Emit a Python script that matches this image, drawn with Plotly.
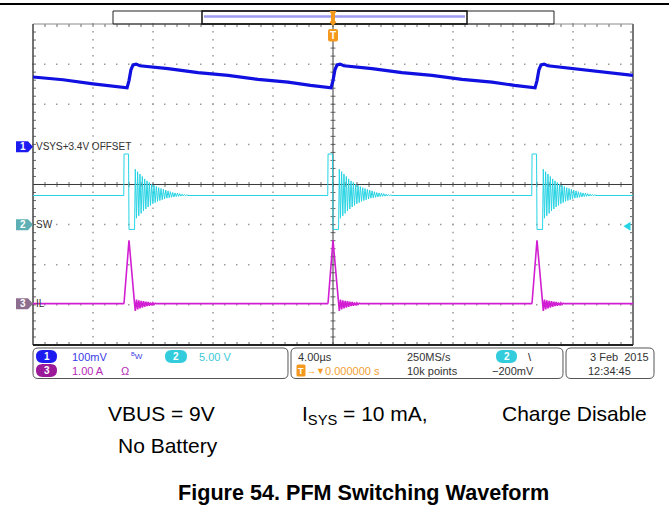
import plotly.graph_objects as go

W, H = 669, 510
FONT = "Liberation Sans, Arial"

# graticule position on the screenshot (px)
GL, GR, GT, GB = 33, 633, 24, 345
DIVX = (GR - GL) / 10
DIVY = (GB - GT) / 8
CX = (GL + GR) / 2
CY = (GT + GB) / 2

# scope settings
TIME_DIV_US = 4.0
CH1_SCALE_MV, CH1_POS = 100.0, 0.94    # VSYS, 3.4 V offset
CH2_SCALE_V, CH2_POS = 5.0, -1.0       # SW
CH3_SCALE_A, CH3_POS = 1.0, -2.97      # IL
TRIG_LEVEL_V = -0.2

# SW rising edges (us)
EVENT_T = [-13.93, -0.33, 13.27]

# VSYS ripple (mV above 3.4 V offset)
VSYS_T = [-20.0, -18.0, -16.0,
          -13.93, -13.73, -13.6, -13.47, -13.33, -13.13, -12.87,
          -11.0, -9.0, -7.0, -5.0, -3.0, -1.5,
          -0.33, -0.13, 0.0, 0.13, 0.27, 0.47, 0.73,
          2.6, 4.6, 6.6, 8.6, 10.6, 12.1,
          13.27, 13.47, 13.6, 13.73, 13.87, 14.07, 14.33,
          16.0, 18.0, 20.0]
VSYS_MV = [174, 167, 157,
           149, 147, 165, 192, 204, 206, 202,
           195, 185, 178, 168, 161, 153,
           149, 147, 165, 192, 204, 206, 202,
           195, 185, 178, 168, 161, 153,
           149, 147, 165, 192, 204, 206, 202,
           195, 186, 178]

# SW node (V), per switching event
SW_IDLE_V = 3.63
SW_EDGE_T = [-0.02, 0.0, 0.30, 0.33, 0.70]
SW_EDGE_V = [3.63, 8.8, 8.8, -0.6, -0.6]
SW_RING_START = 0.75
SW_RING_DT = 0.078
SW_RING_V = [6.9, 0.8, 6.6, 1.1, 6.3, 1.4, 6.0, 1.7, 5.7, 1.95, 5.45, 2.2,
             5.25, 2.4, 5.05, 2.6, 4.9, 2.75, 4.75, 2.9, 4.6, 3.0, 4.5, 3.1,
             4.4, 3.2, 4.3, 3.3, 4.2, 3.35, 4.1, 3.4, 4.0, 3.45, 3.95, 3.5,
             3.9, 3.52, 3.85, 3.55, 3.8, 3.57, 3.75, 3.6, 3.7, 3.63]

# inductor current (A), per switching event
IL_EDGE_T = [-0.03, 0.0, 0.33, 0.70, 0.75]
IL_EDGE_A = [0.0, 0.02, 1.58, 0.0, -0.18]
IL_RING_START = 0.83
IL_RING_A = [0.1, -0.14, 0.08, -0.12, 0.07, -0.1, 0.06, -0.08, 0.05, -0.06,
             0.04, -0.05, 0.03, -0.04, 0.02, -0.02, 0.01, 0.0]


def fx(px):
    return px / W


def fy(py):
    return 1 - py / H


def seg(x0, y0, x1, y1):
    return f"M{fx(x0):.5f},{fy(y0):.5f}L{fx(x1):.5f},{fy(y1):.5f}"


def poly(pts):
    s = "M" + "L".join(f"{fx(x):.5f},{fy(y):.5f}" for x, y in pts)
    return s + "Z"


def rrect(x0, y0, x1, y1, r):
    p = [("M", x0 + r, y0), ("L", x1 - r, y0), ("Q", x1, y0, x1, y0 + r),
         ("L", x1, y1 - r), ("Q", x1, y1, x1 - r, y1), ("L", x0 + r, y1),
         ("Q", x0, y1, x0, y1 - r), ("L", x0, y0 + r), ("Q", x0, y0, x0 + r, y0)]
    out = ""
    for item in p:
        if item[0] == "Q":
            out += f"Q{fx(item[1]):.5f},{fy(item[2]):.5f} {fx(item[3]):.5f},{fy(item[4]):.5f}"
        else:
            out += f"{item[0]}{fx(item[1]):.5f},{fy(item[2]):.5f}"
    return out + "Z"


def event_series(idle, edge_t, edge_v, ring_start, ring_v):
    t, v = [-5 * TIME_DIV_US], [idle]
    for t0 in EVENT_T:
        for dt, val in zip(edge_t, edge_v):
            t.append(t0 + dt)
            v.append(val)
        for i, val in enumerate(ring_v):
            t.append(t0 + ring_start + i * SW_RING_DT)
            v.append(val)
    t.append(5 * TIME_DIV_US)
    v.append(idle)
    return t, v


shapes = []
annotations = []


def line_shape(path, color, width=1, layer="below", dash=None):
    ln = dict(color=color, width=width)
    if dash:
        ln["dash"] = dash
    shapes.append(dict(type="path", xref="paper", yref="paper", path=path,
                       line=ln, layer=layer))


def fill_shape(path, fill, line_color=None, width=0, layer="above"):
    shapes.append(dict(type="path", xref="paper", yref="paper", path=path,
                       fillcolor=fill, line=dict(color=line_color or fill, width=width),
                       layer=layer))


def text(x, y, s, color="#333333", size=11, anchor="left", bold=False, family=FONT):
    if bold:
        s = f"<b>{s}</b>"
    annotations.append(dict(x=fx(x), y=fy(y), xref="paper", yref="paper", text=s,
                            showarrow=False, xanchor=anchor, yanchor="middle",
                            font=dict(family=family, size=size, color=color)))


# ---- page header line ----
line_shape(seg(0, 4, W, 4), "#000000", 2, layer="above")

# ---- graticule ----
for k in range(1, 10):
    if k == 5:
        continue
    x = GL + k * DIVX
    line_shape(seg(x, GT - 1, x, GB), "#9a9a9a", 1.5, dash="1.5px,6.525px")
for k in range(1, 8):
    if k == 4:
        continue
    y = GT + k * DIVY
    line_shape(seg(GL - 1, y, GR, y), "#9a9a9a", 1.5, dash="1.5px,10.5px")

ticks = []
for i in range(1, 50):
    x = GL + i * DIVX / 5
    ticks.append(seg(x, GT, x, GT + 3))
    ticks.append(seg(x, GB, x, GB - 3))
    ticks.append(seg(x, CY - 2.5, x, CY + 2.5))
for j in range(1, 40):
    y = GT + j * DIVY / 5
    ticks.append(seg(GL, y, GL + 3, y))
    ticks.append(seg(GR, y, GR - 3, y))
    ticks.append(seg(CX - 2.5, y, CX + 2.5, y))
line_shape("".join(ticks), "#6a6a6a", 1)

line_shape(seg(GL, CY, GR, CY), "#3a3a3a", 1)
line_shape(seg(CX, GT, CX, GB), "#3a3a3a", 1)
line_shape(seg(GL, GT, GR, GT), "#8a8a8a", 1)
line_shape(seg(GL, GT, GL, GB), "#444444", 1.5)
line_shape(seg(GR, GT, GR, GB), "#777777", 2)
line_shape(seg(GL, GB, GR, GB), "#222222", 2)

# ---- record bar and trigger position ----
line_shape(poly([(113, 11), (554, 11), (554, 24), (113, 24)]), "#222222", 1, layer="above")
line_shape(poly([(202, 11), (467, 11), (467, 24), (202, 24)]), "#111111", 1.5, layer="above")
line_shape(seg(204, 16.5, 465, 16.5), "#9c9cf0", 2.5, layer="above")
fill_shape(poly([(329.5, 11), (336.5, 11), (335, 14), (335, 21), (336.5, 22),
                 (333, 26), (329.5, 22), (331, 21), (331, 14)]), "#f39a1e")
fill_shape(rrect(328, 29, 338, 41.5, 2), "#f39a1e")
text(CX, 35.5, "T", "#ffffff", 10, "center", bold=True)

# ---- channel markers ----
CH_MARK = [(CH1_POS, "1", "#1c1cf0", "VSYS+3.4V OFFSET"),
           (CH2_POS, "2", "#5fb0b4", "SW"),
           (CH3_POS, "3", "#8e6e8e", "IL")]
for pos, num, col, lab in CH_MARK:
    yc = CY - pos * DIVY
    fill_shape(poly([(16, yc - 5.5), (28, yc - 5.5), (33, yc), (28, yc + 5.5), (16, yc + 5.5)]), col)
    text(22.5, yc, num, "#ffffff", 10, "center", bold=True)
    text(34, yc, lab, "#333333", 10)

# trigger level arrow (ch2)
ty = CY - (CH2_POS + TRIG_LEVEL_V / CH2_SCALE_V) * DIVY
fill_shape(poly([(630.5, ty - 4.5), (623.5, ty), (630.5, ty + 4.5)]), "#26d4e4")

# ---- info panel ----
R1, R2 = 356.5, 370.5
for x0, x1 in [(33, 288), (291, 563), (566, 654)]:
    line_shape(rrect(x0, 348, x1, 378.5, 5), "#555555", 1, layer="above")


def badge(x0, x1, yc, num, col):
    fill_shape(rrect(x0, yc - 6.5, x1, yc + 6.5, 6.5), col)
    text((x0 + x1) / 2, yc, num, "#ffffff", 10, "center", bold=True)


badge(36, 57, R1, "1", "#1c1cf0")
badge(36, 57, R2, "3", "#9a1a9a")
badge(165, 187, R1, "2", "#33ccdd")
badge(496, 517, R1, "2", "#33ccdd")
text(70, R1, "100mV", "#3a3ae8")
text(129, R1 - 1, "<sup>B</sup>W", "#3a3ae8", 8)
text(197, R1, "5.00 V", "#3cc8d8")
text(70, R2, "1.00 A", "#b42ab4")
text(119, R2, "Ω", "#b42ab4")

text(296, R1, "4.00µs")
text(405, R1, "250MS/s")
text(526, R1, "\\", "#222222")
fill_shape(rrect(296.5, R2 - 6, 305.5, R2 + 6, 1.5), "#f39a1e")
text(301, R2, "T", "#ffffff", 9, "center", bold=True)
text(305, R2, "→▼", "#f39a1e", 9)
text(323, R2, "0.000000 s", "#f0a030")
text(405, R2, "10k points")
text(490, R2, "−200mV")
text(651, R1, "3 Feb  2015", anchor="right")
text(586, R2, "12:34:45")

# ---- captions ----
text(106, 413, "VBUS = 9V", "#000000", 21)
text(116, 445, "No Battery", "#000000", 21)
text(300, 415, "I<sub>SYS</sub> = 10 mA,", "#000000", 21)
text(500, 413, "Charge Disable", "#000000", 21)
text(363, 492, "Figure 54. PFM Switching Waveform", "#000000", 21.6, "center", bold=True)

# ---- traces ----
sw_t, sw_v = event_series(SW_IDLE_V, SW_EDGE_T, SW_EDGE_V, SW_RING_START, SW_RING_V)
il_t, il_a = event_series(0.0, IL_EDGE_T, IL_EDGE_A, IL_RING_START, IL_RING_A)

fig = go.Figure()
fig.add_trace(go.Scatter(x=VSYS_T, y=VSYS_MV, mode="lines", yaxis="y",
                         line=dict(color="#1010e0", width=3.2), hoverinfo="skip"))
fig.add_trace(go.Scatter(x=sw_t, y=sw_v, mode="lines", yaxis="y2",
                         line=dict(color="#26d4e4", width=1.0), hoverinfo="skip"))
fig.add_trace(go.Scatter(x=il_t, y=il_a, mode="lines", yaxis="y3",
                         line=dict(color="#d21ed2", width=1.6), hoverinfo="skip"))

ydom = [1 - GB / H, 1 - GT / H]
fig.update_layout(
    width=W, height=H, margin=dict(l=0, r=0, t=0, b=0), autosize=False,
    paper_bgcolor="white", plot_bgcolor="rgba(0,0,0,0)", showlegend=False,
    xaxis=dict(domain=[GL / W, GR / W], range=[-5 * TIME_DIV_US, 5 * TIME_DIV_US],
               visible=False, fixedrange=True),
    yaxis=dict(domain=ydom, range=[(-4 - CH1_POS) * CH1_SCALE_MV, (4 - CH1_POS) * CH1_SCALE_MV],
               visible=False, fixedrange=True),
    yaxis2=dict(domain=ydom, overlaying="y", range=[(-4 - CH2_POS) * CH2_SCALE_V, (4 - CH2_POS) * CH2_SCALE_V],
                visible=False, fixedrange=True),
    yaxis3=dict(domain=ydom, overlaying="y", range=[(-4 - CH3_POS) * CH3_SCALE_A, (4 - CH3_POS) * CH3_SCALE_A],
                visible=False, fixedrange=True),
    shapes=shapes, annotations=annotations,
)

# the page is photographed from its top-left corner, so drop the default body margin
fig.write_html("out.html", config={"displayModeBar": False},
               post_script="document.body.style.margin='0';")
